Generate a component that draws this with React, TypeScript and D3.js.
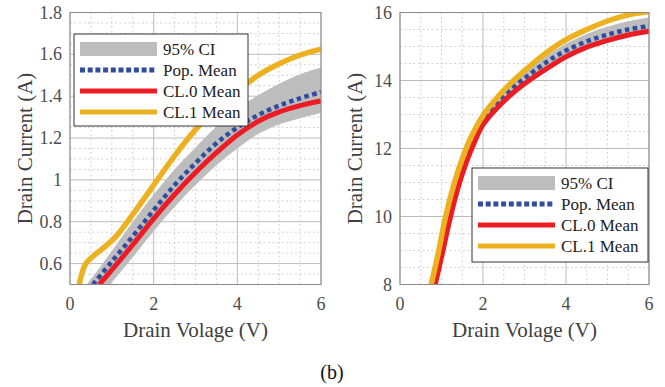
import React from 'react';
import * as d3 from 'd3';

type Pt = [number, number];

// ---- left panel (drain current, low range) ----
const leftXTicks = [0, 2, 4, 6];
const leftYTicks = [0.6, 0.8, 1, 1.2, 1.4, 1.6, 1.8];
const leftCiUpper: Pt[] = [[0.4, 0.5], [0.5, 0.525], [1.0, 0.66], [1.5, 0.8], [2.0, 0.93], [2.5, 1.05], [3.0, 1.155], [3.5, 1.255], [4.0, 1.34], [4.5, 1.405], [5.0, 1.46], [5.5, 1.505], [6.0, 1.537]];
const leftCiLower: Pt[] = [[0.95, 0.5], [1.0, 0.51], [1.5, 0.63], [2.0, 0.755], [2.5, 0.87], [3.0, 0.975], [3.5, 1.07], [4.0, 1.15], [4.5, 1.22], [5.0, 1.265], [5.5, 1.295], [6.0, 1.32]];
const leftPopMean: Pt[] = [[0.55, 0.5], [1.0, 0.61], [1.5, 0.73], [2.0, 0.855], [2.5, 0.975], [3.0, 1.08], [3.5, 1.175], [4.0, 1.25], [4.5, 1.31], [5.0, 1.355], [5.5, 1.39], [6.0, 1.42]];
const leftCl0Mean: Pt[] = [[0.7, 0.5], [1.0, 0.57], [1.5, 0.69], [2.0, 0.815], [2.5, 0.93], [3.0, 1.035], [3.5, 1.13], [4.0, 1.215], [4.5, 1.28], [5.0, 1.325], [5.5, 1.355], [6.0, 1.377]];
const leftCl1Mean: Pt[] = [[0.22, 0.5], [0.28, 0.55], [0.38, 0.6], [0.55, 0.635], [0.8, 0.675], [1.1, 0.73], [1.5, 0.835], [2.0, 0.975], [2.5, 1.115], [3.0, 1.24], [3.5, 1.345], [4.0, 1.425], [4.5, 1.5], [5.0, 1.555], [5.5, 1.597], [6.0, 1.625]];

// ---- right panel (drain current, high range) ----
const rightXTicks = [0, 2, 4, 6];
const rightYTicks = [8, 10, 12, 14, 16];
const rightCiUpper: Pt[] = [[0.78, 8.0], [1.0, 9.3], [1.2, 10.4], [1.4, 11.3], [1.6, 12.0], [1.8, 12.55], [2.0, 12.98], [2.4, 13.55], [2.8, 14.02], [3.2, 14.42], [3.6, 14.78], [4.0, 15.08], [4.5, 15.37], [5.0, 15.58], [5.5, 15.74], [6.0, 15.85]];
const rightCiLower: Pt[] = [[0.88, 8.0], [1.0, 8.6], [1.2, 9.8], [1.4, 10.75], [1.6, 11.5], [1.8, 12.1], [2.0, 12.58], [2.4, 13.15], [2.8, 13.6], [3.2, 13.98], [3.6, 14.32], [4.0, 14.62], [4.5, 14.9], [5.0, 15.1], [5.5, 15.26], [6.0, 15.37]];
const rightPopMean: Pt[] = [[0.8, 8.0], [1.0, 9.1], [1.2, 10.2], [1.4, 11.1], [1.6, 11.8], [1.8, 12.35], [2.0, 12.82], [2.4, 13.4], [2.8, 13.87], [3.2, 14.25], [3.6, 14.6], [4.0, 14.88], [4.5, 15.15], [5.0, 15.35], [5.5, 15.5], [6.0, 15.6]];
const rightCl0Mean: Pt[] = [[0.85, 8.0], [1.0, 8.8], [1.2, 9.9], [1.4, 10.85], [1.6, 11.6], [1.8, 12.2], [2.0, 12.7], [2.4, 13.27], [2.8, 13.72], [3.2, 14.08], [3.6, 14.4], [4.0, 14.7], [4.5, 14.98], [5.0, 15.18], [5.5, 15.34], [6.0, 15.45]];
const rightCl1Mean: Pt[] = [[0.75, 8.0], [0.9, 8.8], [1.1, 10.0], [1.3, 10.95], [1.5, 11.7], [1.7, 12.3], [2.0, 12.97], [2.4, 13.58], [2.8, 14.07], [3.2, 14.5], [3.6, 14.88], [4.0, 15.2], [4.5, 15.5], [5.0, 15.75], [5.5, 15.93], [6.0, 16.03]];

const legendLabels = ['95% CI', 'Pop. Mean', 'CL.0 Mean', 'CL.1 Mean'];

const serif = { fontFamily: "'Liberation Serif'" };
const GRAY = '#bdbdbd';
const BLUE = '#2f4c9f';
const RED = '#ec1c24';
const ORANGE = '#edb120';

interface PanelProps {
  id: string;
  x0: number; x1: number; y0: number; y1: number;
  xTicks: number[]; yTicks: number[];
  yDomain: [number, number]; yMinor: number;
  upper: Pt[]; lower: Pt[]; pop: Pt[]; cl0: Pt[]; cl1: Pt[];
  legend: { x: number; y: number; w: number; h: number };
  yTitleX: number;
}

const fmt = d3.format('~g');

const Panel: React.FC<PanelProps> = (o) => {
  const x = d3.scaleLinear().domain([0, 6]).range([o.x0, o.x1]);
  const y = d3.scaleLinear().domain(o.yDomain).range([o.y1, o.y0]);
  const line = d3.line<Pt>().x(d => x(d[0])).y(d => y(d[1])).curve(d3.curveCatmullRom.alpha(0.5));

  const xMinor = d3.range(0.5, 6, 0.5).filter(v => Math.abs(v % 2) > 1e-6);
  const yMinor = d3.range(o.yDomain[0], o.yDomain[1] + 1e-9, o.yMinor)
    .filter(v => !o.yTicks.some(t => Math.abs(t - v) < 1e-6));

  const band = (line(o.upper) || '') + (line([...o.lower].reverse()) || '').replace(/^M/, 'L') + 'Z';

  const L = o.legend;
  const rowY = (i: number) => L.y + 15 + i * 21;
  const sx0 = L.x + 6, sx1 = L.x + 83;

  return (
    <g>
      <clipPath id={o.id}>
        <rect x={o.x0} y={o.y0} width={o.x1 - o.x0} height={o.y1 - o.y0} />
      </clipPath>
      {xMinor.map(v => (
        <line key={'vx' + v} x1={x(v)} x2={x(v)} y1={o.y0} y2={o.y1}
          stroke="#c8c8c8" strokeWidth={0.8} strokeDasharray="2 2.5" />
      ))}
      {yMinor.map(v => (
        <line key={'hy' + v} x1={o.x0} x2={o.x1} y1={y(v)} y2={y(v)}
          stroke="#c8c8c8" strokeWidth={0.8} strokeDasharray="2 2.5" />
      ))}
      {o.xTicks.map(v => (
        <line key={'VX' + v} x1={x(v)} x2={x(v)} y1={o.y0} y2={o.y1} stroke="#bcbcbc" strokeWidth={1} />
      ))}
      {o.yTicks.map(v => (
        <line key={'HY' + v} x1={o.x0} x2={o.x1} y1={y(v)} y2={y(v)} stroke="#bcbcbc" strokeWidth={1} />
      ))}

      <g clipPath={`url(#${o.id})`}>
        <path d={band} fill={GRAY} />
        <path d={line(o.pop) || ''} fill="none" stroke={BLUE} strokeWidth={4.5} strokeDasharray="4.5 3.5" />
        <path d={line(o.cl0) || ''} fill="none" stroke={RED} strokeWidth={5} />
        <path d={line(o.cl1) || ''} fill="none" stroke={ORANGE} strokeWidth={5.5} />
      </g>

      <rect x={o.x0} y={o.y0} width={o.x1 - o.x0} height={o.y1 - o.y0} fill="none" stroke="#8a8a8a" strokeWidth={1} />

      {o.xTicks.map(v => (
        <text key={'tx' + v} x={x(v)} y={o.y1 + 25.5} textAnchor="middle"
          style={serif} fontSize={18} fill="#4d4d4d">{fmt(v)}</text>
      ))}
      {o.yTicks.map(v => (
        <text key={'ty' + v} x={o.x0 - 8} y={y(v) + 6} textAnchor="end"
          style={serif} fontSize={18} fill="#4d4d4d">{fmt(v)}</text>
      ))}

      <text x={(o.x0 + o.x1) / 2} y={337} textAnchor="middle" style={serif} fontSize={21} fill="#404040">
        Drain Volage (V)
      </text>
      <text transform={`translate(${o.yTitleX},${(o.y0 + o.y1) / 2}) rotate(-90)`} textAnchor="middle"
        style={serif} fontSize={21} fill="#404040">
        Drain Current (A)
      </text>

      <rect x={L.x} y={L.y} width={L.w} height={L.h} fill="#fff" stroke="#333" strokeWidth={1} />
      <rect x={sx0} y={rowY(0) - 7} width={sx1 - sx0} height={14} fill={GRAY} />
      <line x1={sx0} x2={sx1} y1={rowY(1)} y2={rowY(1)} stroke={BLUE} strokeWidth={5} strokeDasharray="5 2.7" />
      <line x1={sx0} x2={sx1} y1={rowY(2)} y2={rowY(2)} stroke={RED} strokeWidth={5} />
      <line x1={sx0} x2={sx1} y1={rowY(3)} y2={rowY(3)} stroke={ORANGE} strokeWidth={5} />
      {legendLabels.map((t, i) => (
        <text key={t} x={L.x + 89} y={rowY(i) + 6} style={serif} fontSize={17} fill="#222">{t}</text>
      ))}
    </g>
  );
};

const App: React.FC = () => (
  <svg width={665} height={387} style={{ position: 'absolute', left: 0, top: 0, display: 'block' }}>
    <rect width={665} height={387} fill="#fff" />
    <Panel id="clipL" x0={70} x1={321} y0={12.5} y1={284.5}
      xTicks={leftXTicks} yTicks={leftYTicks} yDomain={[0.5, 1.8]} yMinor={0.05}
      upper={leftCiUpper} lower={leftCiLower} pop={leftPopMean} cl0={leftCl0Mean} cl1={leftCl1Mean}
      legend={{ x: 74, y: 34, w: 174, h: 92 }} yTitleX={32} />
    <Panel id="clipR" x0={400} x1={649} y0={12.5} y1={284.5}
      xTicks={rightXTicks} yTicks={rightYTicks} yDomain={[8, 16]} yMinor={0.5}
      upper={rightCiUpper} lower={rightCiLower} pop={rightPopMean} cl0={rightCl0Mean} cl1={rightCl1Mean}
      legend={{ x: 472, y: 168, w: 176, h: 94 }} yTitleX={362} />
    <text x={332} y={379} textAnchor="middle" style={serif} fontSize={20} fill="#111">(b)</text>
  </svg>
);

export default App;
